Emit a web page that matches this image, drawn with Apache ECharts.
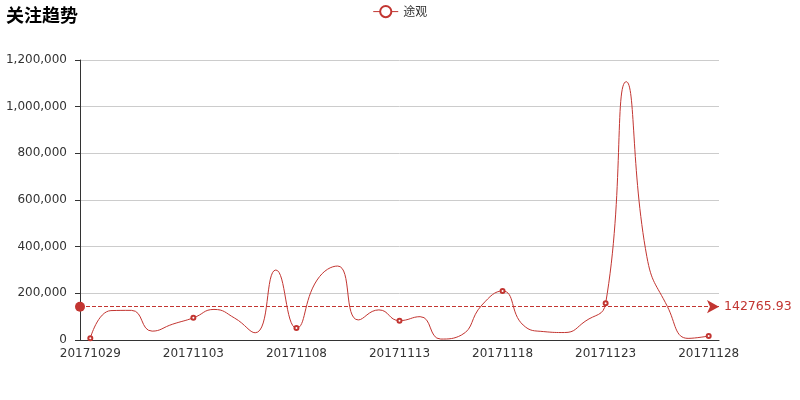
<!DOCTYPE html>
<html>
<head>
<meta charset="utf-8">
<script src="https://cdn.jsdelivr.net/npm/echarts@6/dist/echarts.min.js"></script>
<style>html,body{margin:0;padding:0;background:#fff}#main{width:800px;height:400px}</style>
</head>
<body>
<div id="main"></div>
<script>
var categories = ["20171029","20171030","20171031","20171101","20171102","20171103","20171104","20171105","20171106","20171107","20171108","20171109","20171110","20171111","20171112","20171113","20171114","20171115","20171116","20171117","20171118","20171119","20171120","20171121","20171122","20171123","20171124","20171125","20171126","20171127","20171128"];
var seriesName = "途观";
var values = [8000,126000,127000,38000,68000,95000,131000,94000,31000,300000,51000,257000,317000,86000,129000,83000,100000,4000,21000,150000,210000,64000,36000,32000,79743.8,157000,1107000,357000,143000,7000,17000];
var yTicks = [0,200000,400000,600000,800000,1000000,1200000];
var symbolEvery = 5;

var chart = echarts.init(document.getElementById('main'));
var font = 'DejaVu Sans';
var red = '#c23531';
chart.setOption({
  animation: false,
  title: {
    text: '关注趋势', left: 1, top: 1,
    textStyle: {fontFamily: 'Noto Sans CJK SC', fontSize: 18, fontWeight: 'bold', color: '#000'}
  },
  legend: {
    data: [seriesName], top: 0, left: 'center',
    itemStyle: {borderWidth: 1},
    lineStyle: {width: 1},
    textStyle: {fontFamily: 'Noto Sans CJK SC', fontSize: 12, color: '#333'}
  },
  grid: {left: 80, right: 81, top: 60, bottom: 60},
  xAxis: {
    type: 'category', data: categories, boundaryGap: true,
    axisLine: {lineStyle: {color: '#333'}},
    axisTick: {interval: 4},
    axisLabel: {interval: 4, fontFamily: font, fontSize: 12, color: '#333'}
  },
  yAxis: {
    type: 'value', min: yTicks[0], max: yTicks[yTicks.length-1], interval: 200000,
    axisLine: {show: true, lineStyle: {color: '#333'}},
    axisTick: {show: true},
    axisLabel: {fontFamily: font, fontSize: 12, color: '#333', margin: 13,
      formatter: function(v){ return v.toLocaleString('en-US'); }},
    splitLine: {lineStyle: {color: '#ccc'}}
  },
  series: [{
    name: seriesName, type: 'line', smooth: true,
    data: values.map(function(v, i){
      return {value: v, symbol: (i % symbolEvery === 0) ? 'emptyCircle' : 'none'};
    }),
    symbol: 'emptyCircle', symbolSize: 4, showAllSymbol: true,
    itemStyle: {color: red, borderWidth: 1},
    lineStyle: {width: 1, color: red},
    markLine: {
      symbol: ['circle', 'arrow'],
      symbolSize: [10, 12],
      lineStyle: {color: red, type: 'dashed', width: 1},
      label: {fontFamily: font, fontSize: 12.5, color: red},
      data: [{type: 'average', name: '平均值'}]
    }
  }]
});
</script>
</body>
</html>
